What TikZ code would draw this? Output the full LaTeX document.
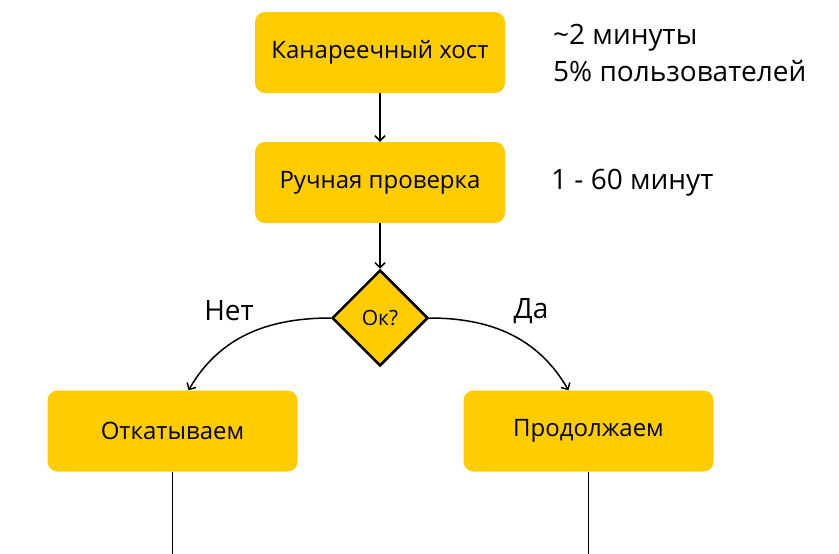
\documentclass[tikz,border=0pt]{standalone}
\usepackage{fontspec}
\setmainfont{Open Sans}
\usepackage{xcolor}
\usepackage{tikz}
\usetikzlibrary{shapes.geometric, arrows.meta, positioning}
\definecolor{canaryyellow}{RGB}{255, 204, 0}

\begin{document}
\begin{tikzpicture}[
    x=1pt, y=-1pt,
    stage/.style={rectangle, rounded corners=10pt, fill=canaryyellow, minimum width=250pt, minimum height=81pt, align=center, font=\fontsize{24}{28}\selectfont},
    check/.style={diamond, draw=black, line width=2.5pt, fill=canaryyellow, minimum width=96pt, minimum height=96pt, inner sep=0pt, font=\fontsize{21}{24}\selectfont},
    note/.style={anchor=west, align=left, inner sep=0pt, font=\fontsize{28}{37}\selectfont},
    flow/.style={line width=1.5pt, -{Straight Barb[length=5pt, width=10pt]}}
]
    \useasboundingbox (0,0) rectangle (839,554);

    \node[stage] (canary) at (380, 52.5) {Канареечный хост};
    \node[stage] (manual) at (380, 182.5) {Ручная проверка};
    \node[check] (ok) at (380, 318) {Ок?};
    \node[stage] (rollback) at (172.5, 431) {Откатываем};
    \node[stage] (proceed) at (588.5, 431) {Продолжаем};

    \node[note] (canarynote) at (553, 53) {\textasciitilde2 минуты\\5\% пользователей};
    \node[note] (manualnote) at (551, 183) {1 - 60 минут};
    \node[note, anchor=center] (no) at (229, 311) {Нет};
    \node[note, anchor=center] (yes) at (531, 311) {Да};

    \coordinate (rollbackend) at (172.5, 554);
    \coordinate (proceedend) at (588.5, 554);

    \draw[flow] (canary) -- (manual);
    \draw[flow] (manual) -- (ok);
    \draw[flow] (ok.west) to[out=180, in=60] ([xshift=16pt]rollback.north);
    \draw[flow] (ok.east) to[out=0, in=120] ([xshift=-20pt]proceed.north);
    \draw[line width=1.5pt] (rollback) -- (rollbackend);
    \draw[line width=1.5pt] (proceed) -- (proceedend);
\end{tikzpicture}
\end{document}
